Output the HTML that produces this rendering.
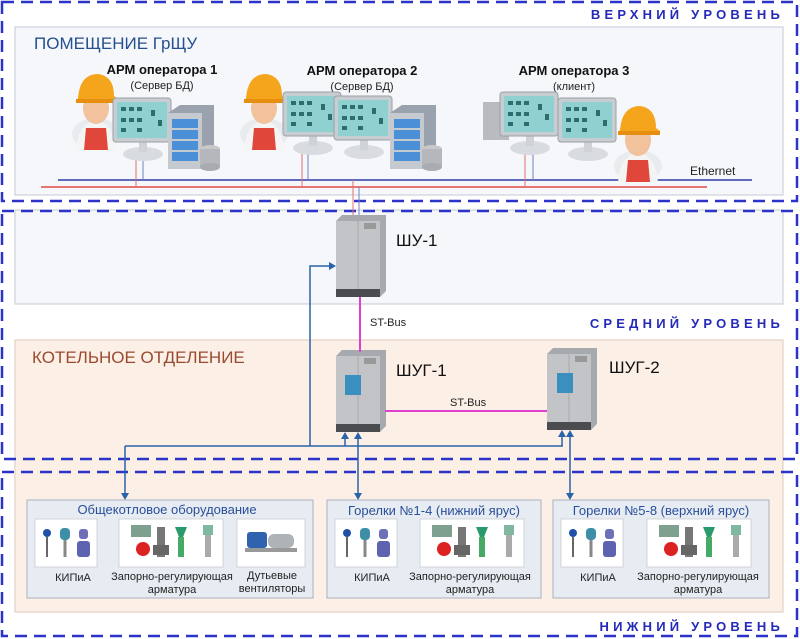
<!DOCTYPE html>
<html><head><meta charset="utf-8"><style>
html,body{margin:0;padding:0;background:#fff;}
svg{display:block;font-family:"Liberation Sans",Arial,sans-serif;}
</style></head><body>
<svg width="800" height="639" viewBox="0 0 800 639" xmlns="http://www.w3.org/2000/svg">
<defs>
<g id="person">
 <ellipse cx="24" cy="66" rx="24" ry="16" fill="#e9ecef"/>
 <path d="M4 82 Q6 56 24 52 Q42 56 44 82 Z" fill="#f4f4f4"/>
 <path d="M12 82 L14 60 L34 60 L36 82 Z" fill="#e0473a"/>
 <ellipse cx="24" cy="40" rx="13" ry="16" fill="#f2c29c"/>
 <path d="M6 30 Q8 6 26 6 Q42 8 42 28 L46 31 L4 33 Z" fill="#f4a51c"/>
 <path d="M4 31 L46 31 L46 35 L4 35 Z" fill="#e58e10"/>
</g>
<g id="monitor">
 <ellipse cx="30" cy="56" rx="20" ry="7" fill="#d8dbdf"/>
 <rect x="26" y="42" width="8" height="12" fill="#cfd3d7"/>
 <rect x="0" y="0" width="58" height="44" rx="3" fill="#c8cdd2" stroke="#9aa1a8"/>
 <rect x="4" y="4" width="50" height="36" fill="#8fd0d0"/>
 <g fill="#2f6d6d"><rect x="8" y="9" width="5" height="4"/><rect x="16" y="9" width="5" height="4"/><rect x="24" y="9" width="5" height="4"/><rect x="8" y="20" width="5" height="4"/><rect x="16" y="20" width="5" height="4"/><rect x="24" y="20" width="5" height="4"/><rect x="38" y="12" width="4" height="6"/><rect x="45" y="22" width="4" height="6"/><rect x="8" y="30" width="5" height="4"/><rect x="24" y="30" width="5" height="4"/></g>
</g>
<g id="server">
 <path d="M0 8 L12 0 L46 0 L46 58 L34 64 L0 64 Z" fill="#9aa3ad"/>
 <rect x="0" y="8" width="34" height="56" fill="#c4cad0"/>
 <g fill="#4b8fd6"><rect x="4" y="14" width="26" height="9"/><rect x="4" y="25" width="26" height="9"/><rect x="4" y="36" width="26" height="9"/><rect x="4" y="47" width="26" height="9"/></g>
 <ellipse cx="42" cy="44" rx="10" ry="4" fill="#c8c8c8"/><rect x="32" y="44" width="20" height="18" fill="#b4b8bc"/><ellipse cx="42" cy="62" rx="10" ry="4" fill="#a8acb0"/>
</g>
<g id="cab">
 <path d="M0 6 L6 0 L50 0 L50 76 L44 82 L0 82 Z" fill="#a6a9ad"/>
 <rect x="0" y="6" width="44" height="70" fill="#c2c4c7"/>
 <line x1="22" y1="6" x2="22" y2="76" stroke="#aaa"/>
 <rect x="0" y="74" width="44" height="8" fill="#4a4c50"/>
 <rect x="28" y="8" width="12" height="6" fill="#999"/>
</g>
<g id="kip">
 <rect width="62" height="48" fill="#fff" stroke="#d0d4d9"/>
 <circle cx="12" cy="14" r="4" fill="#1f4fa8"/><line x1="12" y1="18" x2="12" y2="38" stroke="#666" stroke-width="2"/>
 <rect x="25" y="9" width="10" height="12" rx="4" fill="#3d8fa8"/><line x1="30" y1="21" x2="30" y2="38" stroke="#888" stroke-width="3"/>
 <rect x="44" y="10" width="9" height="10" rx="3" fill="#6d6fb8"/><rect x="42" y="22" width="13" height="16" rx="3" fill="#5e63b0"/>
</g>
<g id="valve">
 <rect width="104" height="48" fill="#fff" stroke="#d0d4d9"/>
 <rect x="12" y="6" width="20" height="12" fill="#7ea08f"/><circle cx="24" cy="30" r="7" fill="#d22"/>
 <rect x="38" y="8" width="8" height="30" fill="#777"/><rect x="34" y="26" width="16" height="10" fill="#666"/>
 <path d="M56 8 h12 l-4 10 h-4z" fill="#2a9a6c"/><rect x="59" y="18" width="6" height="20" fill="#4a6"/>
 <rect x="84" y="6" width="10" height="10" fill="#7fb7a0"/><rect x="86" y="16" width="6" height="22" fill="#aaa"/>
</g>
</defs>

<!-- panels -->
<rect x="15" y="27" width="768" height="168" fill="#f5f7fa" stroke="#c3cbd6"/>
<rect x="15" y="210" width="768" height="94" fill="#f5f7fa" stroke="#c3cbd6"/>
<rect x="15" y="340" width="768" height="272" fill="#fcefe6" stroke="#dcc8bd"/>

<!-- dashed levels -->
<g fill="none" stroke="#2c33c9" stroke-width="2.5" stroke-dasharray="12,7">
 <rect x="2" y="2" width="795" height="199"/>
 <rect x="2" y="211" width="795" height="248"/>
 <rect x="2" y="472" width="795" height="164"/>
</g>
<g fill="#2429b8" font-weight="bold" font-size="13" letter-spacing="4.2" text-anchor="end">
 <text x="784" y="19">ВЕРХНИЙ УРОВЕНЬ</text>
 <text x="784" y="328">СРЕДНИЙ УРОВЕНЬ</text>
 <text x="784" y="631">НИЖНИЙ УРОВЕНЬ</text>
</g>

<text x="34" y="49" font-size="17" fill="#24508f">ПОМЕЩЕНИЕ ГрЩУ</text>
<text x="32" y="363" font-size="17" fill="#9a4a30">КОТЕЛЬНОЕ ОТДЕЛЕНИЕ</text>

<!-- ethernet -->
<line x1="58" y1="180" x2="752" y2="180" stroke="#2d3ca8" stroke-width="1.5"/>
<line x1="41" y1="187" x2="707" y2="187" stroke="#e04848" stroke-width="1.5"/>
<text x="690" y="175" font-size="12" fill="#222">Ethernet</text>
<g stroke-width="1">
 <line x1="136" y1="160" x2="136" y2="187" stroke="#e07070"/><line x1="143" y1="160" x2="143" y2="180" stroke="#7080c0"/>
 <line x1="302" y1="150" x2="302" y2="187" stroke="#e07070"/><line x1="308" y1="150" x2="308" y2="180" stroke="#7080c0"/>
 <line x1="525" y1="150" x2="525" y2="187" stroke="#e07070"/><line x1="533" y1="150" x2="533" y2="180" stroke="#7080c0"/>
 <line x1="353" y1="180" x2="353" y2="218" stroke="#e07070"/><line x1="359" y1="187" x2="359" y2="218" stroke="#7080c0"/>
</g>

<!-- operators -->
<text x="162" y="74" font-size="13" font-weight="bold" text-anchor="middle" fill="#111">АРМ оператора 1</text>
<text x="162" y="89" font-size="11" text-anchor="middle" fill="#222">(Сервер БД)</text>
<text x="362" y="75" font-size="13" font-weight="bold" text-anchor="middle" fill="#111">АРМ оператора 2</text>
<text x="362" y="90" font-size="11" text-anchor="middle" fill="#222">(Сервер БД)</text>
<text x="574" y="75" font-size="13" font-weight="bold" text-anchor="middle" fill="#111">АРМ оператора 3</text>
<text x="574" y="90" font-size="11" text-anchor="middle" fill="#222">(клиент)</text>

<use href="#person" x="72" y="68"/>
<use href="#monitor" x="113" y="98"/>
<use href="#server" x="168" y="105"/>
<use href="#person" x="240" y="68"/>
<use href="#monitor" x="283" y="92"/>
<use href="#monitor" x="334" y="96"/>
<use href="#server" x="390" y="105"/>
<rect x="483" y="102" width="26" height="38" fill="#b8bcc1"/>
<use href="#monitor" x="500" y="92"/>
<use href="#monitor" x="558" y="98"/>
<use href="#person" x="614" y="100"/>

<!-- cabinets -->
<use href="#cab" x="336" y="215"/>
<use href="#cab" x="336" y="350"/>
<use href="#cab" x="547" y="348"/>
<rect x="345" y="375" width="16" height="20" fill="#3a8fbf"/>
<rect x="557" y="373" width="16" height="20" fill="#3a8fbf"/>
<text x="396" y="246" font-size="17" fill="#111">ШУ-1</text>
<text x="396" y="376" font-size="17" fill="#111">ШУГ-1</text>
<text x="609" y="373" font-size="17" fill="#111">ШУГ-2</text>

<line x1="360" y1="297" x2="360" y2="352" stroke="#e040d0" stroke-width="2"/>
<text x="370" y="326" font-size="11" fill="#222">ST-Bus</text>
<line x1="385" y1="411" x2="547" y2="411" stroke="#e040d0" stroke-width="2"/>
<text x="450" y="406" font-size="11" fill="#222">ST-Bus</text>

<!-- blue connectors -->
<g stroke="#2a64a8" stroke-width="1.5" fill="none">
 <polyline points="331,266 310,266 310,446"/>
 <line x1="125" y1="446" x2="563" y2="446"/>
 <line x1="125" y1="446" x2="125" y2="494"/>
 <line x1="345" y1="446" x2="345" y2="438"/>
 <line x1="562" y1="446" x2="562" y2="436"/>
 <line x1="358" y1="438" x2="358" y2="494"/>
 <line x1="570" y1="436" x2="570" y2="494"/>
</g>
<g fill="#2a64a8">
 <path d="M336 266 l-7 -4 v8z"/>
 <path d="M125 500 l-4 -7 h8z"/>
 <path d="M345 432 l-4 7 h8z"/>
 <path d="M562 430 l-4 7 h8z"/>
 <path d="M358 432 l-4 7 h8z"/><path d="M358 500 l-4 -7 h8z"/>
 <path d="M570 430 l-4 7 h8z"/><path d="M570 500 l-4 -7 h8z"/>
</g>

<!-- bottom boxes -->
<g fill="#e7ecf2" stroke="#a9b2bd">
 <rect x="27" y="500" width="286" height="98"/>
 <rect x="327" y="500" width="214" height="98"/>
 <rect x="553" y="500" width="216" height="98"/>
</g>
<g font-size="13" fill="#2a4f9a" text-anchor="middle">
 <text x="167" y="514">Общекотловое оборудование</text>
 <text x="434" y="515">Горелки №1-4 (нижний ярус)</text>
 <text x="661" y="515">Горелки №5-8 (верхний ярус)</text>
</g>
<use href="#kip" x="35" y="519"/>
<use href="#valve" x="119" y="519"/>
<rect x="237" y="519" width="68" height="48" fill="#fff" stroke="#d0d4d9"/>
<rect x="247" y="532" width="20" height="16" rx="3" fill="#2f63b0"/><rect x="268" y="534" width="26" height="14" rx="6" fill="#aeb3b8"/><rect x="245" y="548" width="52" height="4" fill="#999"/>
<use href="#kip" x="335" y="519"/>
<use href="#valve" x="420" y="519"/>
<use href="#kip" x="561" y="519"/>
<use href="#valve" x="647" y="519"/>
<g font-size="11" fill="#222" text-anchor="middle">
 <text x="73" y="581">КИПиА</text>
 <text x="172" y="580">Запорно-регулирующая</text>
 <text x="172" y="593">арматура</text>
 <text x="272" y="579">Дутьевые</text>
 <text x="272" y="592">вентиляторы</text>
 <text x="372" y="581">КИПиА</text>
 <text x="470" y="580">Запорно-регулирующая</text>
 <text x="470" y="593">арматура</text>
 <text x="598" y="581">КИПиА</text>
 <text x="698" y="580">Запорно-регулирующая</text>
 <text x="698" y="593">арматура</text>
</g>
</svg>
</body></html>
